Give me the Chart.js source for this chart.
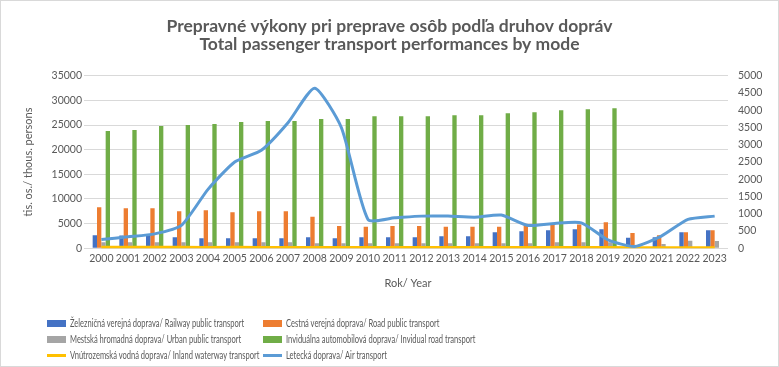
<!DOCTYPE html>
<html>
<head>
<meta charset="utf-8">
<script src="https://cdn.jsdelivr.net/npm/chart.js@4.4.1/dist/chart.umd.min.js"></script>
<style>
    body { margin: 0; background: #fff; }
    #wrap { position: relative; width: 779px; height: 367px; font-family: Lato, sans-serif; }
    #myChart { position: absolute; left: 0; top: 0; }
    #frame { position: absolute; left: 0; top: 0; width: 779px; height: 367px; box-sizing: border-box; border: 1px solid #d9d9d9; pointer-events: none; }
    #legend { position: absolute; left: 47px; top: 315px; width: 700px; }
    .lg-item { position: absolute; height: 16px; line-height: 16px; font-size: 11px; color: #595959; white-space: nowrap; }
    .lg-mark { position: absolute; left: 0; width: 19px; }
    .lg-text { position: absolute; left: 23px; top: 0; transform: scaleX(0.685); transform-origin: left center; }
</style>
</head>
<body>
<div id="wrap">
    <canvas id="myChart" width="779" height="367"></canvas>
    <div id="legend"></div>
    <div id="frame"></div>
</div>
<script>
//data
var years = ['2000', '2001', '2002', '2003', '2004', '2005', '2006', '2007', '2008', '2009', '2010', '2011',
    '2012', '2013', '2014', '2015', '2016', '2017', '2018', '2019', '2020', '2021', '2022', '2023'];
var railway = [2640, 2580, 2600, 2240, 2030, 2030, 2030, 2030, 2240, 2030, 2240, 2240,
    2240, 2440, 2440, 3250, 3450, 3660, 3860, 3860, 2100, 2200, 3250, 3660];
var road = [8330, 8130, 8130, 7520, 7720, 7320, 7520, 7520, 6360, 4530, 4330, 4530,
    4530, 4330, 4330, 4330, 4700, 4800, 4800, 5280, 3100, 2640, 3250, 3660];
var urban = [1220, 1220, 1220, 1220, 1220, 1220, 1220, 1220, 1020, 1020, 1020, 1020,
    1020, 1020, 1020, 1020, 1020, 1220, 1220, 1220, 300, 870, 1500, 1450];
var individual = [23800, 24000, 24800, 25000, 25200, 25600, 25800, 25800, 26200, 26200, 26800, 26800,
    26800, 27000, 27000, 27400, 27600, 28000, 28200, 28400, null, null, null, null];
var inland = [150, 140, 130, 120, 110, 120, 110, 100, 100, 90, 80, 80,
    70, 70, 70, 80, 90, 90, 80, 80, 20, 30, 50, 60];
var air = [253, 330, 415, 660, 1706, 2500, 2840, 3640, 4640, 3500, 834, 880,
    930, 930, 900, 960, 660, 718, 735, 240, 50, 350, 834, 930];
var leftTicks = { max: 35000, step: 5000 };
var rightTicks = { max: 5000, step: 500 };

var grey = '#595959';
var fontFamily = 'Lato, sans-serif';
var plainNumber = function (value) { return String(value); };

var ctx = document.getElementById('myChart').getContext('2d');
var myChart = new Chart(ctx, {
    type: 'bar',
    data: {
        labels: years,
        datasets: [{
            label: 'Železničná verejná doprava/ Railway public transport',
            data: railway,
            backgroundColor: '#4472c4',
            yAxisID: 'y',
            order: 2
        }, {
            label: 'Cestná verejná doprava/ Road public transport',
            data: road,
            backgroundColor: '#ed7d31',
            yAxisID: 'y',
            order: 2
        }, {
            label: 'Mestská hromadná doprava/ Urban public transport',
            data: urban,
            backgroundColor: '#a5a5a5',
            yAxisID: 'y',
            order: 2
        }, {
            label: 'Inviduálna automobilová doprava/ Invidual road transport',
            data: individual,
            backgroundColor: '#70ad47',
            yAxisID: 'y',
            order: 2
        }, {
            type: 'line',
            label: 'Vnútrozemská vodná doprava/ Inland waterway transport',
            data: inland,
            borderColor: '#ffc000',
            backgroundColor: '#ffc000',
            borderWidth: 3.5,
            pointRadius: 0,
            yAxisID: 'y',
            order: 1
        }, {
            type: 'line',
            label: 'Letecká doprava/ Air transport',
            data: air,
            borderColor: '#5b9bd5',
            backgroundColor: '#5b9bd5',
            borderWidth: 3,
            pointRadius: 0,
            tension: 0.2,
            yAxisID: 'y1',
            order: 0
        }]
    },
    options: {
        responsive: false,
        animation: false,
        datasets: {
            bar: { categoryPercentage: 0.65, barPercentage: 1.0 }
        },
        layout: { padding: { left: 0, right: 0, top: 0, bottom: 77 } },
        plugins: {
            legend: { display: false },
            tooltip: { enabled: false },
            title: {
                display: true,
                text: ['Prepravné výkony pri preprave osôb podľa druhov dopráv', 'Total passenger transport performances by mode'],
                color: grey,
                font: { family: fontFamily, size: 17.5, weight: 'bold', lineHeight: 1.05 },
                padding: { top: 17, bottom: 22 }
            }
        },
        scales: {
            x: {
                grid: { display: false, drawTicks: false },
                border: { display: false },
                ticks: { color: grey, font: { family: fontFamily, size: 10.5 }, padding: 4, maxRotation: 0, autoSkip: false },
                title: { display: true, text: 'Rok/ Year', color: grey, font: { family: fontFamily, size: 11 }, padding: { top: 8, bottom: 0 } }
            },
            y: {
                position: 'left',
                min: 0,
                max: leftTicks.max,
                grid: { color: '#d9d9d9', tickLength: 4 },
                border: { display: false },
                ticks: { stepSize: leftTicks.step, color: grey, font: { family: fontFamily, size: 10.5 }, padding: 2, callback: plainNumber },
                title: { display: true, text: 'tis. os./ thous. persons', color: grey, font: { family: fontFamily, size: 11 }, padding: { top: 22, bottom: 0 } },
                afterFit: function (scale) { scale.width = 88; }
            },
            y1: {
                position: 'right',
                min: 0,
                max: rightTicks.max,
                grid: { display: false, drawTicks: false },
                border: { display: false },
                ticks: { stepSize: rightTicks.step, color: grey, font: { family: fontFamily, size: 10.5 }, padding: 10, callback: plainNumber },
                afterFit: function (scale) { scale.width = 51; }
            }
        }
    }
});

//html legend, two columns like the original
function fnBuildLegend() {
    var box = document.getElementById('legend');
    var colX = [0, 216];
    myChart.data.datasets.forEach(function (ds, i) {
        var item = document.createElement('div');
        item.className = 'lg-item';
        item.style.left = colX[i % 2] + 'px';
        item.style.top = (Math.floor(i / 2) * 16) + 'px';
        var mark = document.createElement('div');
        mark.className = 'lg-mark';
        if (ds.type === 'line') {
            mark.style.top = '7px';
            mark.style.height = '3px';
            mark.style.background = ds.borderColor;
        } else {
            mark.style.top = '5px';
            mark.style.height = '7px';
            mark.style.background = ds.backgroundColor;
        }
        var txt = document.createElement('span');
        txt.className = 'lg-text';
        txt.textContent = ds.label;
        item.appendChild(mark);
        item.appendChild(txt);
        box.appendChild(item);
    });
}
fnBuildLegend();
</script>
</body>
</html>
